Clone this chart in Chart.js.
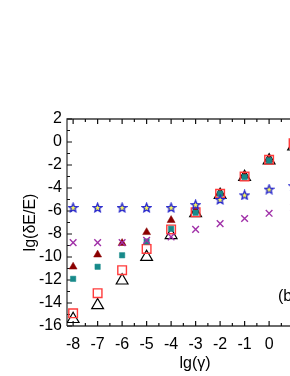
<!DOCTYPE html>
<html>
<head>
<meta charset="utf-8">
<style>
  html, body { margin: 0; padding: 0; background: #fff; overflow: hidden; }
  #box { width: 290px; height: 376px; overflow: hidden; }
  canvas { display: block; }
</style>
</head>
<body>
<div id="box">
  <canvas id="myChart" width="335" height="376"></canvas>
</div>

<script src="https://cdn.jsdelivr.net/npm/chart.js/dist/chart.umd.min.js"></script>
<script>
// data, x = lg(gamma)
const lgGamma = [-8, -7, -6, -5, -4, -3, -2, -1, 0, 1];
const starVals  = [-5.7, -5.7, -5.7, -5.7, -5.7, -5.45, -5.0, -4.6, -4.1, -3.8];
const crossVals = [-8.75, -8.75, -8.75, -8.55, -8.25, -7.6, -7.1, -6.65, -6.2, -5.7];
const tealVals  = [-11.9, -10.85, -9.85, -8.65, -7.55, -6.15, -4.5, -3.05, -1.6, -0.2];
const redSqVals = [-14.9, -13.15, -11.15, -9.3, -7.6, -6.1, -4.5, -3.0, -1.55, -0.1];
const darkTriVals = [-10.85, -9.8, -8.8, -7.85, -6.8, -6.0, -4.5, -2.95, -1.55, -0.4];
const openTriVals = [-15.4, -14.2, -12.05, -10.0, -8.1, -6.2, -4.6, -3.05, -1.6, -0.4];
const xTicks = [-8, -7, -6, -5, -4, -3, -2, -1, 0, 1, 2];
const yTicks = [-16, -14, -12, -10, -8, -6, -4, -2, 0, 2];

const FONT = 'Arial, "Liberation Sans", sans-serif';

// little star image for the blue/yellow stars
function makeStar() {
  const c = document.createElement('canvas');
  c.width = 11; c.height = 11;
  const g = c.getContext('2d');
  const cx = 5.5, cy = 5.9, ro = 4.6, ri = 2.0;
  g.beginPath();
  for (let i = 0; i < 10; i++) {
    const r = i % 2 ? ri : ro;
    const a = -Math.PI / 2 + i * Math.PI / 5;
    g.lineTo(cx + r * Math.cos(a), cy + r * Math.sin(a));
  }
  g.closePath();
  g.fillStyle = '#ffff55';
  g.fill();
  g.lineWidth = 1.3;
  g.strokeStyle = '#2222cc';
  g.stroke();
  return c;
}

function pts(vals) {
  return lgGamma.map((x, i) => ({ x: x, y: vals[i] }));
}

const data = {
  datasets: [
    { data: pts(starVals), pointStyle: makeStar(), showLine: false },
    { data: pts(crossVals), pointStyle: 'crossRot', radius: 4.7, borderColor: '#a030a8', borderWidth: 1.4, showLine: false },
    { data: pts(tealVals), pointStyle: 'rect', radius: 3.8, backgroundColor: '#178a8a', borderColor: '#178a8a', borderWidth: 0.5, showLine: false },
    { data: pts(redSqVals), pointStyle: 'rect', radius: 6.1, backgroundColor: 'rgba(0,0,0,0)', borderColor: '#ff3b3b', borderWidth: 1.4, showLine: false },
    { data: pts(darkTriVals), pointStyle: 'triangle', radius: 4.6, backgroundColor: '#8b0000', borderColor: '#8b0000', borderWidth: 0.5, showLine: false },
    { data: pts(openTriVals), pointStyle: 'triangle', radius: 6.8, backgroundColor: 'rgba(0,0,0,0)', borderColor: '#000', borderWidth: 1.2, showLine: false }
  ]
};

// inward ticks, frame and texts
const framePlugin = {
  id: 'frame',
  beforeDatasetsDraw(chart) {
    const { ctx, chartArea: a, scales: { x, y } } = chart;
    ctx.save();
    ctx.strokeStyle = '#3a3a3a';
    ctx.lineWidth = 1.3;
    ctx.beginPath();
    ctx.moveTo(a.left, a.bottom); ctx.lineTo(a.left, a.top); ctx.lineTo(a.right, a.top);
    ctx.moveTo(a.left, a.bottom); ctx.lineTo(a.right, a.bottom);
    ctx.stroke();
    ctx.strokeStyle = '#111';
    ctx.lineWidth = 1.2;
    ctx.beginPath();
    for (let v = -8; v <= 2; v += 0.5) {
      const px = x.getPixelForValue(v);
      const len = Number.isInteger(v) ? 5 : 3;
      ctx.moveTo(px, a.bottom); ctx.lineTo(px, a.bottom - len);
      ctx.moveTo(px, a.top); ctx.lineTo(px, a.top + len);
    }
    for (let v = -16; v <= 2; v += 1) {
      const py = y.getPixelForValue(v);
      const len = v % 2 === 0 ? 5 : 3;
      ctx.moveTo(a.left, py); ctx.lineTo(a.left + len, py);
    }
    ctx.stroke();

    ctx.fillStyle = '#000';
    ctx.font = '16px ' + FONT;
    ctx.textAlign = 'left';
    ctx.textBaseline = 'middle';
    ctx.fillText('(b)', 278, 297);

    ctx.textAlign = 'center';
    ctx.fillText('lg(\u03b3)', (a.left + a.right) / 2, 364);

    ctx.translate(31, (a.top + a.bottom) / 2);
    ctx.rotate(-Math.PI / 2);
    ctx.fillText('lg(\u03b4E/E)', 0, 0);
    ctx.restore();
  }
};

const config = {
  type: 'scatter',
  data,
  options: {
    responsive: false,
    animation: false,
    layout: { padding: { top: 119, right: 12, left: 0, bottom: 0 } },
    plugins: { legend: { display: false }, tooltip: { enabled: false } },
    scales: {
      x: {
        type: 'linear',
        min: -8.25, max: 2.2,
        grid: { display: false, drawTicks: false },
        border: { display: false },
        afterBuildTicks: (s) => { s.ticks = xTicks.map(v => ({ value: v })); },
        afterFit: (s) => { s.height = 50; },
        ticks: { autoSkip: false, maxRotation: 0, padding: 9, color: '#000', font: { size: 16, family: FONT } }
      },
      y: {
        type: 'linear',
        min: -16, max: 2,
        grid: { display: false, drawTicks: false },
        border: { display: false },
        afterBuildTicks: (s) => { s.ticks = yTicks.map(v => ({ value: v })); },
        afterFit: (s) => { s.width = 67; },
        ticks: { autoSkip: false, padding: 5, color: '#000', font: { size: 16, family: FONT } }
      }
    }
  },
  plugins: [framePlugin]
};

const myChart = new Chart(document.getElementById('myChart'), config);
</script>
</body>
</html>
